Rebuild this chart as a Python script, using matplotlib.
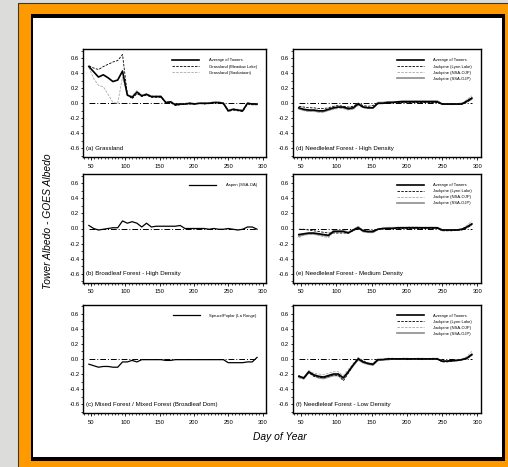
import matplotlib
matplotlib.use("Agg")
import matplotlib.pyplot as plt
from matplotlib.patches import Rectangle

# Sampling days shared by every series
days = [47, 54, 61, 68, 75, 82, 89, 96, 103, 110, 117, 124, 131, 138, 145, 152, 159, 166,
        173, 180, 187, 194, 201, 208, 215, 222, 229, 236, 243, 250, 257, 264, 271, 278, 285, 292]

# (a) Grassland
grass_avg = [0.49, 0.42, 0.35, 0.38, 0.34, 0.29, 0.31, 0.43, 0.11, 0.08, 0.15, 0.10, 0.12, 0.09,
             0.09, 0.09, 0.01, 0.02, -0.02, -0.01, -0.01, 0.00, -0.01, 0.00, 0.00, 0.00, 0.01, 0.01,
             0.00, -0.10, -0.08, -0.09, -0.10, 0.00, -0.01, -0.01]
grass_meadow = [0.50, 0.47, 0.45, 0.49, 0.52, 0.55, 0.57, 0.65, 0.12, 0.06, 0.13, 0.09, 0.11, 0.08,
                0.08, 0.08, 0.01, 0.01, -0.03, -0.02, -0.01, -0.01, -0.01, 0.00, -0.01, 0.00, 0.00,
                0.01, -0.01, -0.11, -0.09, -0.10, -0.11, -0.01, -0.02, -0.02]
grass_sask = [0.48, 0.33, 0.24, 0.22, 0.12, 0.01, 0.00, 0.35, 0.10, 0.10, 0.17, 0.11, 0.13, 0.10,
              0.10, 0.10, 0.02, 0.03, -0.01, 0.00, 0.00, 0.01, 0.00, 0.01, 0.01, 0.01, 0.02, 0.02,
              0.01, -0.09, -0.07, -0.08, -0.09, 0.01, 0.00, 0.00]

# (b) Broadleaf forest
aspen = [0.04, 0.00, -0.02, -0.01, 0.00, 0.01, 0.01, 0.10, 0.07, 0.09, 0.07, 0.02, 0.07, 0.02,
         0.03, 0.03, 0.03, 0.03, 0.03, 0.04, 0.00, 0.00, 0.00, 0.00, 0.00, -0.01, 0.00, -0.01,
         -0.01, 0.00, -0.01, -0.02, -0.01, 0.02, 0.02, -0.01]

# (c) Mixed forest
spruce_poplar = [-0.07, -0.09, -0.11, -0.10, -0.10, -0.11, -0.11, -0.04, -0.04, -0.02, -0.04, -0.01,
                 -0.01, -0.01, -0.01, -0.01, -0.02, -0.02, -0.01, -0.01, -0.01, -0.01, -0.01, -0.01,
                 -0.01, -0.01, -0.01, -0.01, -0.01, -0.05, -0.05, -0.05, -0.05, -0.04, -0.04, 0.02]

# (d) Needleleaf forest - high density
high_avg = [-0.06, -0.08, -0.09, -0.09, -0.10, -0.10, -0.08, -0.06, -0.05, -0.05, -0.07, -0.06,
            -0.01, -0.05, -0.06, -0.06, 0.00, 0.00, 0.01, 0.01, 0.02, 0.02, 0.02, 0.02, 0.02, 0.02,
            0.02, 0.02, 0.02, -0.01, -0.01, -0.01, -0.01, -0.01, 0.03, 0.07]
high_lynn = [-0.04, -0.05, -0.06, -0.06, -0.07, -0.07, -0.06, -0.04, -0.03, -0.04, -0.05, -0.04,
             0.00, -0.03, -0.04, -0.03, 0.00, 0.00, 0.00, 0.01, 0.01, 0.01, 0.01, 0.01, 0.01, 0.01,
             0.01, 0.01, 0.01, -0.01, -0.01, -0.01, -0.01, -0.01, 0.02, 0.05]
high_nsa = [-0.08, -0.10, -0.11, -0.11, -0.12, -0.12, -0.10, -0.08, -0.07, -0.07, -0.09, -0.08,
            -0.03, -0.06, -0.07, -0.07, -0.01, 0.00, 0.01, 0.01, 0.01, 0.02, 0.02, 0.02, 0.02, 0.02,
            0.02, 0.02, 0.02, -0.01, -0.01, -0.02, -0.01, -0.01, 0.05, 0.10]
high_ssa = [-0.07, -0.09, -0.10, -0.10, -0.11, -0.11, -0.09, -0.07, -0.05, -0.06, -0.08, -0.07,
            0.00, -0.05, -0.06, -0.06, 0.01, 0.01, 0.02, 0.02, 0.02, 0.03, 0.03, 0.03, 0.03, 0.03,
            0.03, 0.03, 0.03, -0.01, -0.01, -0.01, -0.01, 0.00, 0.02, 0.06]

# (e) Needleleaf forest - medium density
med_avg = [-0.08, -0.07, -0.06, -0.06, -0.07, -0.08, -0.09, -0.04, -0.04, -0.04, -0.06, -0.02,
           0.01, -0.03, -0.04, -0.04, -0.01, 0.00, 0.00, 0.00, 0.01, 0.01, 0.01, 0.01, 0.01, 0.01,
           0.01, 0.01, 0.01, -0.02, -0.02, -0.02, -0.02, -0.01, 0.02, 0.06]
med_lynn = [-0.01, -0.01, -0.02, -0.03, -0.04, -0.05, -0.06, -0.06, -0.06, -0.06, -0.06, -0.03,
            0.00, -0.03, -0.04, -0.03, -0.01, 0.00, 0.00, 0.00, 0.00, 0.00, 0.00, 0.00, 0.00, 0.00,
            0.00, 0.00, 0.00, -0.03, -0.03, -0.03, -0.02, -0.02, 0.01, 0.04]
med_nsa = [-0.12, -0.09, -0.08, -0.08, -0.09, -0.11, -0.12, -0.05, -0.03, -0.03, -0.05, -0.01,
           0.03, -0.02, -0.03, -0.04, -0.01, 0.00, 0.01, 0.01, 0.01, 0.01, 0.02, 0.02, 0.02, 0.01,
           0.01, 0.01, 0.01, -0.02, -0.03, -0.02, -0.02, -0.01, 0.04, 0.10]
med_ssa = [-0.10, -0.08, -0.07, -0.07, -0.08, -0.09, -0.10, -0.03, -0.03, -0.03, -0.05, -0.02,
           0.02, -0.04, -0.05, -0.05, -0.01, 0.00, 0.01, 0.01, 0.01, 0.01, 0.01, 0.01, 0.01, 0.01,
           0.01, 0.01, 0.01, -0.02, -0.02, -0.02, -0.02, -0.01, 0.02, 0.06]

# (f) Needleleaf forest - low density
low_avg = [-0.23, -0.25, -0.17, -0.21, -0.23, -0.24, -0.22, -0.20, -0.20, -0.25, -0.17, -0.08,
           0.00, -0.04, -0.06, -0.07, -0.01, -0.01, 0.00, 0.00, 0.00, 0.00, 0.00, 0.00, 0.00, 0.00,
           0.00, 0.00, 0.00, -0.03, -0.03, -0.02, -0.02, -0.01, 0.01, 0.06]
low_lynn = [-0.22, -0.26, -0.18, -0.23, -0.24, -0.25, -0.23, -0.21, -0.22, -0.29, -0.19, -0.08,
            0.01, -0.03, -0.06, -0.08, -0.01, -0.01, 0.00, 0.00, 0.00, 0.00, -0.01, 0.00, 0.00,
            -0.01, 0.00, 0.00, 0.00, -0.04, -0.04, -0.03, -0.02, -0.01, 0.00, 0.05]
low_nsa = [-0.25, -0.27, -0.15, -0.19, -0.20, -0.21, -0.19, -0.17, -0.17, -0.22, -0.14, -0.06,
           0.02, -0.02, -0.05, -0.06, 0.00, 0.00, 0.01, 0.01, 0.00, 0.01, 0.01, 0.00, 0.01, 0.01,
           0.00, 0.01, 0.01, -0.02, -0.03, -0.02, -0.01, 0.00, 0.03, 0.10]
low_ssa = [-0.24, -0.26, -0.18, -0.22, -0.25, -0.26, -0.24, -0.22, -0.22, -0.26, -0.18, -0.09,
           -0.01, -0.05, -0.07, -0.08, -0.02, -0.01, -0.01, 0.00, 0.00, 0.00, 0.00, 0.00, 0.00,
           0.00, 0.00, 0.00, 0.00, -0.03, -0.03, -0.03, -0.02, -0.01, 0.01, 0.05]

jack_labels = ["Average of Towers", "Jackpine (Lynn Lake)", "Jackpine (NSA-OJP)", "Jackpine (SSA-OJP)"]

W, H = 508, 467
fig = plt.figure(figsize=(W / 100, H / 100), dpi=100)
plt.rcParams["font.family"] = ["Liberation Sans", "DejaVu Sans"]

# Background with orange frame, drawn in pixel coordinates
bg = fig.add_axes([0, 0, 1, 1])
bg.set_xlim(0, W)
bg.set_ylim(H, 0)
bg.axis("off")
bg.add_patch(Rectangle((0, 0), W, H, facecolor="#dcdcda", edgecolor="none"))
bg.add_patch(Rectangle((18, 3), W, H, facecolor="#ff9900", edgecolor="#3a3a3a", linewidth=0.8))
bg.add_patch(Rectangle((31, 14), 474, 447, facecolor="black", edgecolor="none"))
bg.add_patch(Rectangle((33, 17.5), 468.5, 439.5, facecolor="white", edgecolor="none"))

rows = [(49.3, 157.3), (174, 283), (304.5, 413.3)]
cols = [(82.7, 266), (292.5, 481)]


def make_axes(row, col):
    top, bottom = rows[row]
    left, right = cols[col]
    ax = fig.add_axes([left / W, 1 - bottom / H, (right - left) / W, (bottom - top) / H])
    ax.set_xlim(38, 305)
    ax.set_ylim(-0.72, 0.72)
    ax.set_xticks([50, 100, 150, 200, 250, 300])
    ax.set_xticks(range(40, 305, 5), minor=True)
    ax.set_yticks([-0.6, -0.4, -0.2, 0.0, 0.2, 0.4, 0.6])
    ax.set_yticks([-0.7, -0.5, -0.3, -0.1, 0.1, 0.3, 0.5, 0.7], minor=True)
    ax.set_yticklabels(["-0.6", "-0.4", "-0.2", "0.0", "0.2", "0.4", "0.6"])
    ax.tick_params(which="major", direction="out", length=1.8, width=0.6, labelsize=4.2, pad=0.6)
    ax.tick_params(which="minor", direction="out", length=1.2, width=0.5)
    ax.tick_params(axis="x", which="major", pad=2.7)
    for s in ax.spines.values():
        s.set_linewidth(1.0)
    # zero reference line across the sampled days
    ax.plot([days[0], days[-1]], [0, 0], color="black", lw=0.7, ls=(0, (6, 2, 1, 2)), zorder=1)
    return ax


def finish(ax, title):
    ax.text(0.018, 0.06, title, transform=ax.transAxes, fontsize=4.4, ha="left", va="bottom")
    ax.legend(loc="upper right", frameon=False, prop={"size": 3.0},
              handlelength=6.4, handletextpad=2.3, labelspacing=0.5, borderaxespad=1.8)


def jack_panel(ax, avg, lynn, nsa, ssa, title):
    ax.plot(days, avg, color="black", lw=1.2, label=jack_labels[0], zorder=4)
    ax.plot(days, lynn, color="black", lw=0.6, ls=(0, (3, 1.5)), label=jack_labels[1], zorder=3)
    ax.plot(days, nsa, color="#a8a8a8", lw=0.6, ls=(0, (3, 1.5)), label=jack_labels[2], zorder=2)
    ax.plot(days, ssa, color="#8c8c8c", lw=1.2, label=jack_labels[3], zorder=2)
    finish(ax, title)


# (a) Grassland
ax = make_axes(0, 0)
ax.plot(days, grass_avg, color="black", lw=1.2, label="Average of Towers", zorder=4)
ax.plot(days, grass_meadow, color="black", lw=0.6, ls=(0, (3, 1.5)), label="Grassland (Meadow Lake)", zorder=3)
ax.plot(days, grass_sask, color="#a8a8a8", lw=0.6, ls=(0, (3, 1.5)), label="Grassland (Saskatoon)", zorder=2)
finish(ax, "(a) Grassland")

# (b) Broadleaf forest
ax = make_axes(1, 0)
ax.plot(days, aspen, color="black", lw=0.9, label="Aspen (SSA-OA)", zorder=4)
finish(ax, "(b) Broadleaf Forest - High Density")

# (c) Mixed forest
ax = make_axes(2, 0)
ax.plot(days, spruce_poplar, color="black", lw=0.9, label="Spruce/Poplar (La Ronge)", zorder=4)
finish(ax, "(c) Mixed Forest / Mixed Forest (Broadleaf Dom)")

# (d)-(f) Jackpine sites
jack_panel(make_axes(0, 1), high_avg, high_lynn, high_nsa, high_ssa, "(d) Needleleaf Forest - High Density")
jack_panel(make_axes(1, 1), med_avg, med_lynn, med_nsa, med_ssa, "(e) Needleleaf Forest - Medium Density")
jack_panel(make_axes(2, 1), low_avg, low_lynn, low_nsa, low_ssa, "(f) Needleleaf Forest - Low Density")

# Shared axis titles
fig.text(48 / W, 1 - 221 / H, "Tower Albedo - GOES Albedo", rotation=90, fontsize=7.4,
         style="italic", ha="center", va="center")
fig.text(279.5 / W, 1 - 436.5 / H, "Day of Year", fontsize=7.4, style="italic",
         ha="center", va="center")

fig.savefig("out.png", dpi=100)
